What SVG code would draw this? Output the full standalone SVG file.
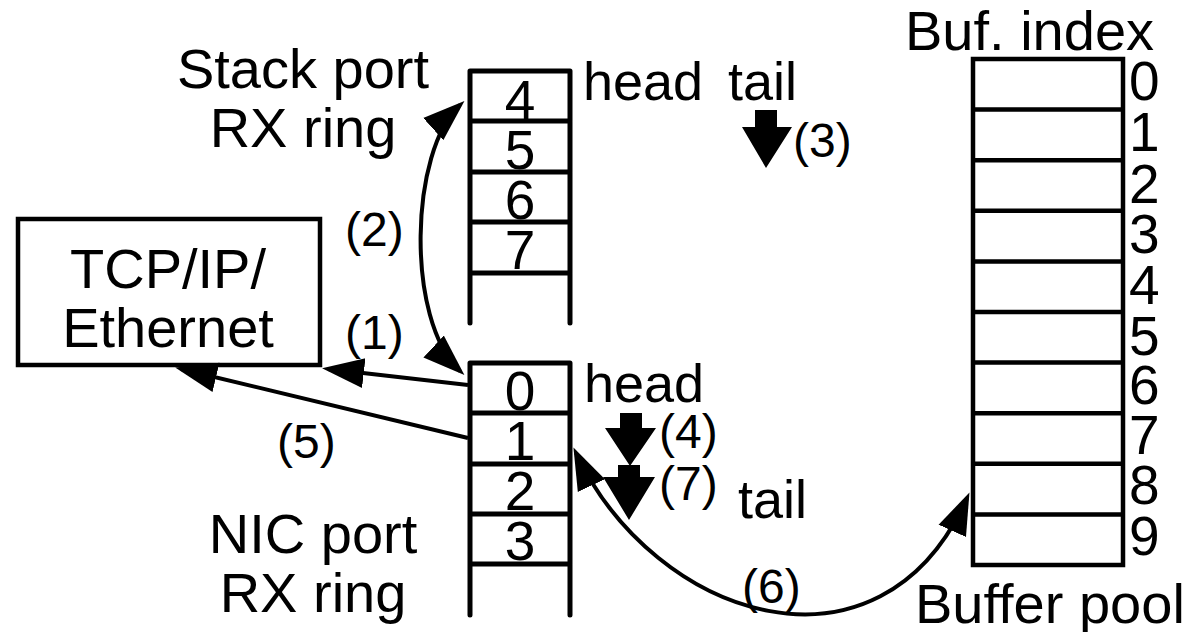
<svg xmlns="http://www.w3.org/2000/svg" width="1183" height="632" viewBox="0 0 1183 632">
  <style>
    text { font-family: "Liberation Sans", Arial, Helvetica, sans-serif; fill: #000; }
    .big { font-size: 56px; }
    .ht { font-size: 54px; }
    .lbl { font-size: 48px; }
    .dig { font-size: 55px; text-anchor: middle; }
    .idx { font-size: 55px; }
    .mid { text-anchor: middle; }
    .ring { stroke: #000; stroke-width: 5; stroke-linecap: round; fill: none; }
    .pool { stroke: #000; stroke-width: 4.5; fill: none; }
    .conn { stroke: #000; stroke-width: 4; fill: none; }
    .halo { stroke: #fff; stroke-width: 12; fill: none; }
    .step { fill: #000; }
  </style>
  <defs>
    <marker id="arrow" markerUnits="userSpaceOnUse" markerWidth="44" markerHeight="32"
            viewBox="0 0 44 32" refX="36" refY="16" orient="auto-start-reverse">
      <path d="M0,1 L42,16 L0,31 Z" fill="#000"/>
    </marker>
  </defs>

  <rect width="1183" height="632" fill="#fff"/>

  <!-- protocol stack box -->
  <g id="tcpip">
    <rect x="18" y="219" width="302" height="146" fill="#fff" stroke="#000" stroke-width="4.5"/>
    <text class="big mid" x="168" y="288">TCP/IP/</text>
    <text class="big mid" x="168" y="347">Ethernet</text>
  </g>

  <!-- stack port receive ring -->
  <g id="stack-ring">
    <text class="big mid" x="303" y="88">Stack port</text>
    <text class="big mid" x="303" y="147">RX ring</text>
    <path class="ring" d="M470,71 V323 M570,71 V323 M470,71 H570 M470,121 H570 M470,172 H570 M470,222 H570 M470,273 H570"/>
    <text class="dig" x="520" y="119">4</text>
    <text class="dig" x="520" y="169">5</text>
    <text class="dig" x="520" y="219">6</text>
    <text class="dig" x="520" y="269">7</text>
    <text class="ht" x="583" y="100">head</text>
    <text class="ht" x="728" y="100">tail</text>
    <path class="step" d="M755,110 H777 V127 H792 L766,168 L742,127 H755 Z"/>
    <text class="lbl" x="793" y="157">(3)</text>
  </g>

  <!-- NIC port receive ring -->
  <g id="nic-ring">
    <text class="big mid" x="313" y="553">NIC port</text>
    <text class="big mid" x="313" y="612">RX ring</text>
    <path class="ring" d="M470,363 V615 M570,363 V615 M470,363 H570 M470,413 H570 M470,464 H570 M470,514 H570 M470,564 H570"/>
    <text class="dig" x="520" y="410">0</text>
    <text class="dig" x="520" y="460">1</text>
    <text class="dig" x="520" y="510">2</text>
    <text class="dig" x="520" y="560">3</text>
    <text class="ht" x="584" y="402">head</text>
    <path class="step" d="M620,413 H642 V428 H656 L630,466 L605,428 H620 Z"/>
    <text class="lbl" x="659" y="448">(4)</text>
    <path class="step" d="M618,465 H640 V477 H655 L629,520 L603,477 H618 Z"/>
    <text class="lbl" x="659" y="500">(7)</text>
    <text class="ht" x="738" y="518">tail</text>
  </g>

  <!-- buffer pool -->
  <g id="buffer-pool">
    <text class="big" x="905" y="50">Buf. index</text>
    <rect class="pool" x="973" y="59" width="150" height="506"/>
    <path class="pool" d="M973,109.6 H1123 M973,160.2 H1123 M973,210.8 H1123 M973,261.4 H1123 M973,312 H1123 M973,362.6 H1123 M973,413.2 H1123 M973,463.8 H1123 M973,514.4 H1123"/>
    <text class="idx" x="1129" y="100">0</text>
    <text class="idx" x="1129" y="151">1</text>
    <text class="idx" x="1129" y="203">2</text>
    <text class="idx" x="1129" y="253">3</text>
    <text class="idx" x="1129" y="304">4</text>
    <text class="idx" x="1129" y="355">5</text>
    <text class="idx" x="1129" y="404">6</text>
    <text class="idx" x="1129" y="454">7</text>
    <text class="idx" x="1129" y="504">8</text>
    <text class="idx" x="1129" y="555">9</text>
    <text class="big" x="915" y="623">Buffer pool</text>
  </g>

  <!-- connectors -->
  <g id="connectors">
    <path id="c1" class="conn" d="M468,385 L328,369" marker-end="url(#arrow)"/>
    <text class="lbl" x="345" y="349">(1)</text>
    <path id="c2" class="conn" d="M460,105 C410,150 405,320 460,371" marker-start="url(#arrow)" marker-end="url(#arrow)"/>
    <text class="lbl" x="345" y="246">(2)</text>
    <path id="c5" class="conn" d="M468,438 L181,369" marker-end="url(#arrow)"/>
    <text class="lbl" x="277" y="458">(5)</text>
    <path class="halo" d="M576,453 C655,620 880,692 967,498" stroke-dasharray="0 22 110 3000"/>
    <path id="c6" class="conn" d="M576,453 C655,620 880,692 967,498" marker-start="url(#arrow)" marker-end="url(#arrow)"/>
    <text class="lbl" x="742" y="603">(6)</text>
  </g>
</svg>
